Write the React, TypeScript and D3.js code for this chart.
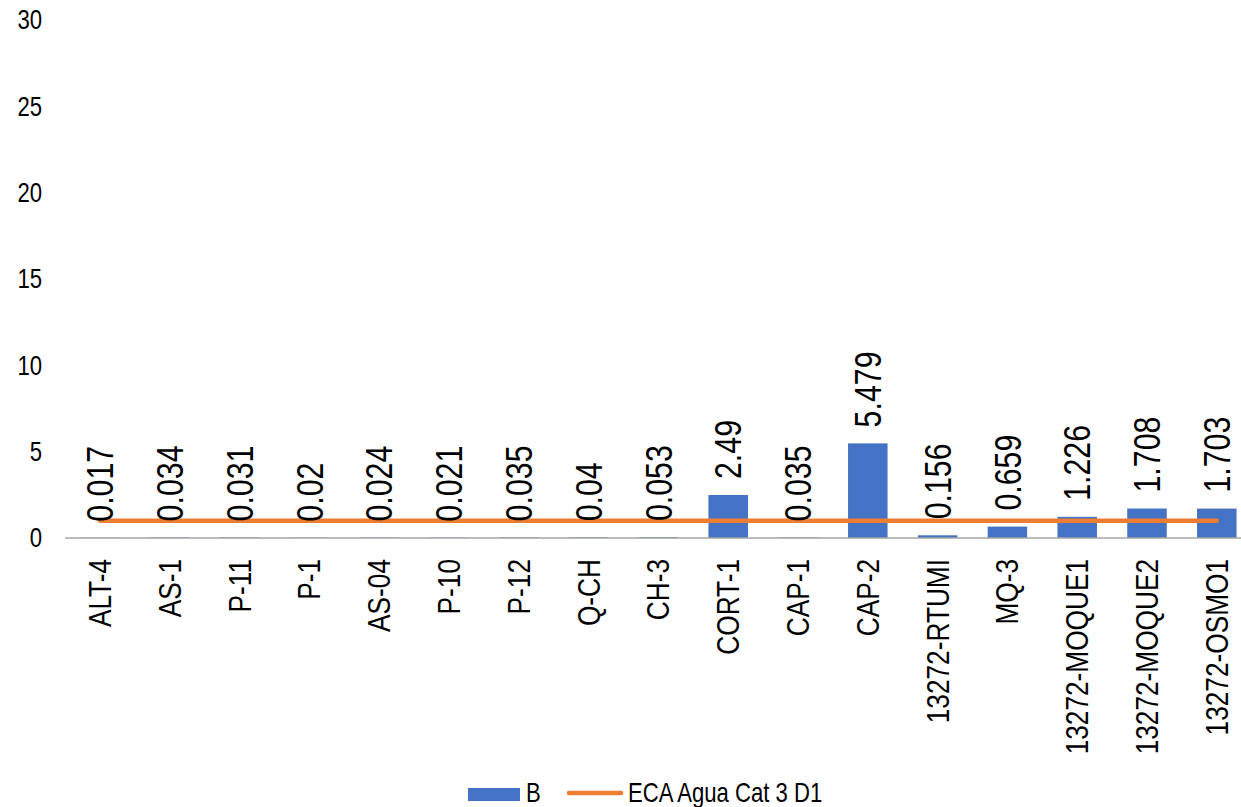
import React from "react";
import * as d3 from "d3";

const categories = ["ALT-4","AS-1","P-11","P-1","AS-04","P-10","P-12","Q-CH","CH-3","CORT-1","CAP-1","CAP-2","13272-RTUMI","MQ-3","13272-MOQUE1","13272-MOQUE2","13272-OSMO1"];
const valuesB = [0.017,0.034,0.031,0.02,0.024,0.021,0.035,0.04,0.053,2.49,0.035,5.479,0.156,0.659,1.226,1.708,1.703];
const labelsB = ["0.017","0.034","0.031","0.02","0.024","0.021","0.035","0.04","0.053","2.49","0.035","5.479","0.156","0.659","1.226","1.708","1.703"];
const ecaValues = categories.map(() => 1);
const yTicks = [0, 5, 10, 15, 20, 25, 30];
const seriesNames = ["B", "ECA Agua Cat 3 D1"];

const W = 1241, H = 807;
const FONT = "'Liberation Sans', Arial, sans-serif";
const BLUE = "#4472C4";
const ORANGE = "#ED7D31";
const SX = 0.82;

export default function App() {
  const x = d3.scaleBand<string>().domain(categories).range([65.1, 1251.7]).paddingInner(0.434).paddingOuter(0.217);
  const y = d3.scaleLinear().domain([0, 30]).range([538, 20]);
  const cx = (c: string) => (x(c) as number) + x.bandwidth() / 2;
  const line = d3.line<number>().x((_, i) => cx(categories[i])).y((d) => y(d));

  return (
    <svg width={W} height={H} style={{ position: "absolute", left: 0, top: 0, background: "#fff" }} fontFamily={FONT}>
      {yTicks.map((t) => (
        <text key={t} transform={`translate(42,${y(t)}) scale(${SX},1)`} textAnchor="end" dominantBaseline="central" fontSize={27} fill="#000">{t}</text>
      ))}
      {categories.map((c, i) => (
        <rect key={c} x={x(c)} y={y(valuesB[i])} width={x.bandwidth()} height={y(0) - y(valuesB[i])} fill={BLUE} />
      ))}
      <line x1={65} x2={W} y1={y(0)} y2={y(0)} stroke="#A6A6A6" strokeWidth={1.5} />
      <path d={line(ecaValues) || ""} fill="none" stroke={ORANGE} strokeWidth={4.5} strokeLinecap="round" />
      {categories.map((c, i) => (
        <text key={"l" + c} transform={`translate(${cx(c)},${y(valuesB[i]) - 16}) rotate(-90) scale(${SX},1)`} textAnchor="start" dominantBaseline="central" fontSize={37} fill="#000">{labelsB[i]}</text>
      ))}
      {categories.map((c) => (
        <text key={"c" + c} transform={`translate(${cx(c)},559) rotate(-90) scale(${SX},1)`} textAnchor="end" dominantBaseline="central" fontSize={32} fill="#000">{c}</text>
      ))}
      <rect x={468} y={788} width={52} height={13} fill={BLUE} />
      <text transform={`translate(526,801.5) scale(${SX},1)`} fontSize={27} fill="#000">{seriesNames[0]}</text>
      <line x1={569} x2={621} y1={793} y2={793} stroke={ORANGE} strokeWidth={4.5} strokeLinecap="round" />
      <text transform={`translate(628,801.5) scale(${SX},1)`} fontSize={27} fill="#000">{seriesNames[1]}</text>
    </svg>
  );
}
